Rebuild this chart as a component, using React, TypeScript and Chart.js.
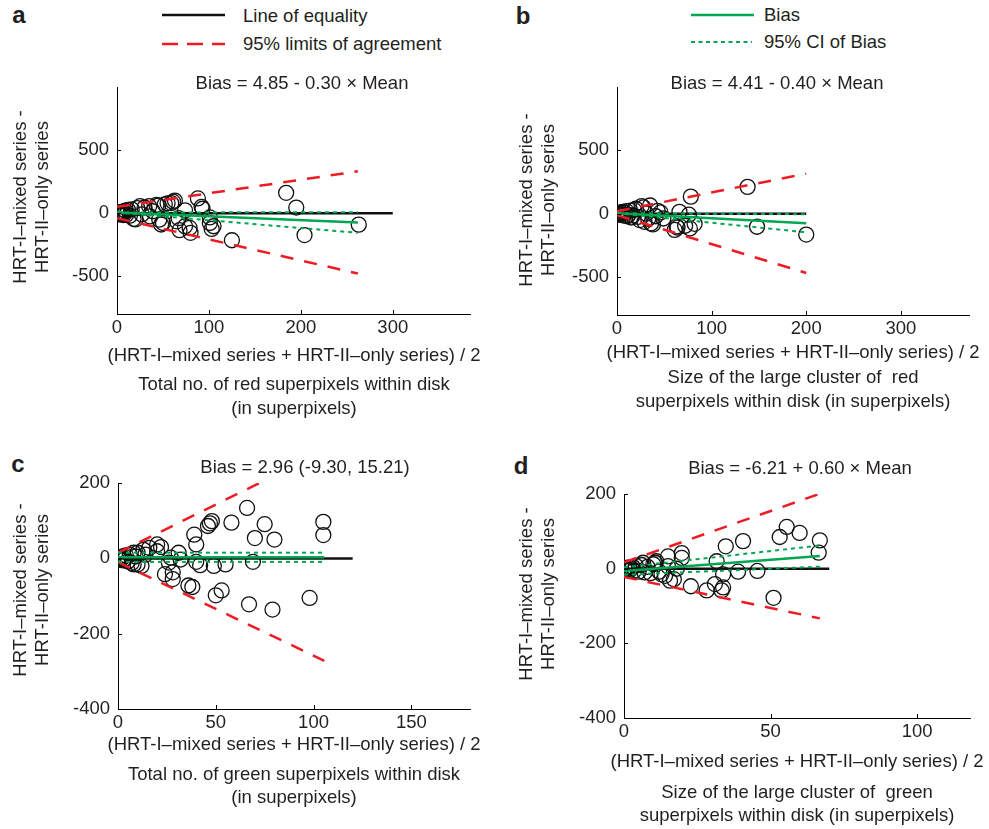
import React, { useEffect, useRef } from "react";
import { Chart, registerables } from "chart.js";
Chart.register(...registerables);

// ---------------- Data ----------------
// Panel a: total no. of red superpixels within disk
const meanA = [0.2,0.4,0.6,0.8,1,1.2,0.5,1,1.5,2,2.5,3,3.5,4,5,6,7,8,9,10,12,14,16,18,20,22,25,27,30,35,36,39,43,45,46,48,50,52,55,59,61,63,65,67,68,74,74,79,80,88,92,93,101,101,103,105,125,184,195,204,263];
const diffA = [0,1,-1,2,-2,0,2,-3,5,-6,1,8,-10,4,-8,12,-15,6,20,-12,25,-20,30,-45,-50,40,55,-10,45,55,-26,15,65,60,-52,-90,-78,70,78,80,91,100,-65,-40,-135,22,-104,-117,-156,117,50,35,-34,-78,-125,-104,-215,161,44,-174,-91];
const eqXA = [0, 300];
const fitXA = [0, 262];
const biasYA = [4.85, -73.75];
const ciUpYA = [4.85, 8];
const ciLoYA = [4.85, -156];
const loaUpYA = [50, 332];
const loaLoYA = [-40, -479];

// Panel b: size of the large cluster of red superpixels
const meanB = [0.2,0.4,0.6,0.8,1.2,1.5,0.5,1,2,3,4,5,6,7,8,10,11,12,14,15,17,18,20,22,24,26,28,29,31,33,35,36,38,41,43,46,49,61,63,64,66,72,76,77,78,82,138,148,200];
const diffB = [0,2,-2,1,-1,3,1,-4,5,-8,10,-5,15,-15,8,20,-20,-10,25,-30,-13,30,39,-25,-50,60,50,-64,0,-40,65,-77,-85,-20,22,10,-38,-128,-100,-110,15,-95,-8,-116,135,-80,212,-103,-165];
const eqXB = [0, 200];
const fitXB = [0, 200];
const biasYB = [4.41, -75.59];
const ciUpYB = [4.41, -4];
const ciLoYB = [4.41, -147];
const loaUpYB = [20, 316];
const loaLoYB = [-12, -468];

// Panel c: total no. of green superpixels within disk
const meanC = [0.2,0.4,0.6,0.8,1.2,0.5,1,1.5,2,2.5,3,3.5,4,5,6,7,8,8,9,10,10,12,13,14,16,20,20,22,24,26,27,28,28,31,32,36,38,39,40,40,42,46,47,48,49,50,53,55,58,66,67,69,70,75,79,80,98,105,105];
const diffC = [0,1,-1,2,-2,0,2,-3,4,-5,6,-2,8,-8,10,-12,15,-16,5,15,-16,-20,23,10,28,37,19,30,-42,-11,2,-37,-55,15,-3,-72,-76,63,37,-9,-18,86,93,99,-20,-98,-85,-16,95,134,-122,-9,54,91,-136,50,-105,97,62];
const eqXC = [0, 120];
const fitXC = [0, 105.5];
const biasYC = [2.96, 2.96];
const ciUpYC = [15.21, 15.21];
const ciLoYC = [-9.3, -9.3];
const loaUpYC = [15, 285];
const loaLoYC = [-10, -272];

// Panel d: size of the large cluster of green superpixels
const meanD = [0.2,0.4,0.6,0.8,1.2,0.5,1,1.5,2,2.5,3,3.5,4,5,6,6.5,7,8,9,10,10.6,11,12,12.8,14,15,15,15.7,17,18,19.7,19.7,22.8,28.2,31,31.6,33.3,33.8,33.8,34.7,38.9,40.6,45.5,51,53.1,55.5,59.9,66.4,66.8];
const diffD = [0,1,-1,2,-2,0,-2,3,-4,2,5,-5,8,-8,10,16,-10,5,-12,12,16,20,-8,-15,-19,33,7,-32,-28,0,29,42,-47,-58,-41,20,-58,-50,-15,60,-8,74,-6,-78,85,112,96,43,76];
const eqXD = [0, 70];
const fitXD = [0, 66.8];
const biasYD = [-6.21, 33.87];
const ciUpYD = [3.8, 62.2];
const ciLoYD = [-16.2, 5.6];
const loaUpYD = [17, 201];
const loaLoYD = [-22, -133];

// Tick labels
const xTicksAB = [0, 100, 200, 300];
const yTicksAB = [-500, 0, 500];
const xTicksC = [0, 50, 100, 150];
const xTicksD = [0, 50, 100];
const yTicksCD = [-400, -200, 0, 200];

// ---------------- Styling ----------------
const FONT = '"Liberation Sans", Arial, Helvetica, sans-serif';
const TXT = "#231f20";
const GREEN = "rgb(0,166,80)";
const RED = "rgb(237,28,36)";
const Y_W = 75;
const PAD_T = 14;
const PAD_R = 12;
const X_H = 40;
const FS = 18.5;

const pts = (xs: number[], ys: number[]) => xs.map((x, i) => ({ x, y: ys[i] }));

const inwardTicks = {
  id: "inwardTicks",
  afterDraw(chart: any) {
    const { ctx, chartArea: a, scales } = chart;
    const x = scales.x, y = scales.y;
    ctx.save();
    ctx.strokeStyle = "#000";
    ctx.lineWidth = 1;
    ctx.beginPath();
    x.ticks.forEach((t: any) => {
      const px = Math.round(x.getPixelForValue(t.value)) + 0.5;
      ctx.moveTo(px, a.bottom);
      ctx.lineTo(px, a.bottom - 4);
    });
    y.ticks.forEach((t: any) => {
      const py = Math.round(y.getPixelForValue(t.value)) + 0.5;
      ctx.moveTo(a.left, py);
      ctx.lineTo(a.left + 4, py);
    });
    ctx.stroke();
    ctx.restore();
  },
};

type Spec = {
  L: number; T: number; R: number; B: number;
  xMax: number; yMin: number; yMax: number;
  xTicks: number[]; yTicks: number[];
  mean: number[]; diff: number[];
  eqX: number[]; fitX: number[];
  bias: number[]; ciUp: number[]; ciLo: number[]; loaUp: number[]; loaLo: number[];
};

function line(data: any[], color: string, width: number, dash: number[]) {
  return {
    data, showLine: true, borderColor: color, borderWidth: width, borderDash: dash,
    pointRadius: 0, pointHoverRadius: 0, fill: false, tension: 0,
  };
}

function buildConfig(s: Spec): any {
  const tickFont = { family: FONT, size: FS };
  return {
    type: "scatter",
    data: {
      datasets: [
        line(pts(s.fitX, s.ciUp), GREEN, 2, [4, 4]),
        line(pts(s.fitX, s.ciLo), GREEN, 2, [4, 4]),
        line(pts(s.fitX, s.bias), GREEN, 2.5, []),
        line(pts(s.fitX, s.loaUp), RED, 2.5, [13, 11]),
        line(pts(s.fitX, s.loaLo), RED, 2.5, [13, 11]),
        line(pts(s.eqX, [0, 0]), "#111", 2.5, []),
        {
          data: pts(s.mean, s.diff),
          pointRadius: 7.5,
          pointBorderColor: "#111",
          pointBackgroundColor: "rgba(0,0,0,0)",
          pointBorderWidth: 1.3,
          showLine: false,
        },
      ],
    },
    options: {
      animation: false,
      responsive: false,
      devicePixelRatio: 1,
      layout: { padding: { top: PAD_T, right: PAD_R, left: 0, bottom: 0 } },
      plugins: { legend: { display: false }, tooltip: { enabled: false } },
      scales: {
        x: {
          type: "linear", min: 0, max: s.xMax,
          afterFit: (sc: any) => { sc.height = X_H; },
          afterBuildTicks: (sc: any) => { sc.ticks = s.xTicks.map((v) => ({ value: v })); },
          grid: { drawOnChartArea: false, drawTicks: false },
          border: { display: true, color: "#000", width: 1 },
          ticks: { font: tickFont, color: TXT, padding: 3, maxRotation: 0, autoSkip: false },
        },
        y: {
          type: "linear", min: s.yMin, max: s.yMax,
          afterFit: (sc: any) => { sc.width = Y_W; },
          afterBuildTicks: (sc: any) => { sc.ticks = s.yTicks.map((v) => ({ value: v })); },
          grid: { drawOnChartArea: false, drawTicks: false },
          border: { display: true, color: "#000", width: 1 },
          ticks: { font: tickFont, color: TXT, padding: 8, autoSkip: false },
        },
      },
    },
    plugins: [inwardTicks],
  };
}

function Panel({ s }: { s: Spec }) {
  const ref = useRef<HTMLCanvasElement | null>(null);
  useEffect(() => {
    const chart = new Chart(ref.current as HTMLCanvasElement, buildConfig(s));
    return () => chart.destroy();
  }, []);
  const w = s.R - s.L + Y_W + PAD_R;
  const h = s.B - s.T + PAD_T + X_H;
  return (
    <canvas
      ref={ref}
      width={w}
      height={h}
      style={{ position: "absolute", left: s.L - Y_W, top: s.T - PAD_T, width: w, height: h }}
    />
  );
}

function T({ x, y, children, size = FS, bold = false, left = false }: any) {
  return (
    <div
      style={{
        position: "absolute", left: x, top: y,
        transform: left ? "translate(0,-50%)" : "translate(-50%,-50%)",
        whiteSpace: "pre", fontSize: size, fontWeight: bold ? "bold" : "normal",
        lineHeight: 1, textAlign: "center",
      }}
    >
      {children}
    </div>
  );
}

function YTitle({ x, y }: any) {
  return (
    <div
      style={{
        position: "absolute", left: x, top: y,
        transform: "translate(-50%,-50%) rotate(-90deg)",
        whiteSpace: "pre", fontSize: FS, lineHeight: "22px", textAlign: "center",
      }}
    >
      {"HRT-I\u2013mixed series -\nHRT-II\u2013only series"}
    </div>
  );
}

const X_TITLE = "(HRT-I\u2013mixed series + HRT-II\u2013only series) / 2";

export default function App() {
  const a: Spec = { L: 117, T: 82, R: 470, B: 314, xMax: 384, yMin: -800, yMax: 1000, xTicks: xTicksAB, yTicks: yTicksAB,
    mean: meanA, diff: diffA, eqX: eqXA, fitX: fitXA, bias: biasYA, ciUp: ciUpYA, ciLo: ciLoYA, loaUp: loaUpYA, loaLo: loaLoYA };
  const b: Spec = { L: 617, T: 82, R: 969, B: 315, xMax: 372, yMin: -800, yMax: 1000, xTicks: xTicksAB, yTicks: yTicksAB,
    mean: meanB, diff: diffB, eqX: eqXB, fitX: fitXB, bias: biasYB, ciUp: ciUpYB, ciLo: ciLoYB, loaUp: loaUpYB, loaLo: loaLoYB };
  const c: Spec = { L: 118, T: 478, R: 470, B: 709, xMax: 180, yMin: -400, yMax: 200, xTicks: xTicksC, yTicks: yTicksCD,
    mean: meanC, diff: diffC, eqX: eqXC, fitX: fitXC, bias: biasYC, ciUp: ciUpYC, ciLo: ciLoYC, loaUp: loaUpYC, loaLo: loaLoYC };
  const d: Spec = { L: 624, T: 489, R: 970, B: 718, xMax: 118, yMin: -400, yMax: 200, xTicks: xTicksD, yTicks: yTicksCD,
    mean: meanD, diff: diffD, eqX: eqXD, fitX: fitXD, bias: biasYD, ciUp: ciUpYD, ciLo: ciLoYD, loaUp: loaUpYD, loaLo: loaLoYD };

  return (
    <div style={{ position: "absolute", left: 0, top: 0, width: 989, height: 829, background: "#fff",
      fontFamily: FONT, color: TXT, overflow: "hidden" }}>
      <Panel s={a} />
      <Panel s={b} />
      <Panel s={c} />
      <Panel s={d} />

      <svg width={989} height={60} style={{ position: "absolute", left: 0, top: 0 }}>
        <line x1={162} y1={15} x2={225} y2={15} stroke="#111" strokeWidth={2.5} />
        <line x1={162} y1={44} x2={225} y2={44} stroke={RED} strokeWidth={2.5} strokeDasharray="16 9" />
        <line x1={691} y1={15} x2={754} y2={15} stroke={GREEN} strokeWidth={2.5} />
        <line x1={691} y1={42} x2={752} y2={42} stroke={GREEN} strokeWidth={2} strokeDasharray="4 3.5" />
      </svg>
      <T x={243} y={16} left>Line of equality</T>
      <T x={243} y={44} left>95% limits of agreement</T>
      <T x={764} y={15} left>Bias</T>
      <T x={764} y={42} left>95% CI of Bias</T>

      <T x={19} y={15} size={24} bold>a</T>
      <T x={523} y={16} size={24} bold>b</T>
      <T x={18} y={464} size={24} bold>c</T>
      <T x={521} y={466} size={24} bold>d</T>

      <T x={302} y={83}>Bias = 4.85 - 0.30 × Mean</T>
      <T x={777} y={83}>Bias = 4.41 - 0.40 × Mean</T>
      <T x={305} y={467}>Bias = 2.96 (-9.30, 15.21)</T>
      <T x={800} y={468}>Bias = -6.21 + 0.60 × Mean</T>

      <YTitle x={31} y={197} />
      <YTitle x={537} y={200} />
      <YTitle x={31} y={590} />
      <YTitle x={537} y={594} />

      <T x={294} y={355}>{X_TITLE}</T>
      <T x={294} y={384}>Total no. of red superpixels within disk</T>
      <T x={294} y={408}>(in superpixels)</T>

      <T x={793} y={352}>{X_TITLE}</T>
      <T x={793} y={377}>Size of the large cluster of  red</T>
      <T x={793} y={401}>superpixels within disk (in superpixels)</T>

      <T x={294} y={744}>{X_TITLE}</T>
      <T x={294} y={774}>Total no. of green superpixels within disk</T>
      <T x={294} y={797}>(in superpixels)</T>

      <T x={797} y={761}>{X_TITLE}</T>
      <T x={797} y={792}>Size of the large cluster of  green</T>
      <T x={797} y={815}>superpixels within disk (in superpixels)</T>
    </div>
  );
}
